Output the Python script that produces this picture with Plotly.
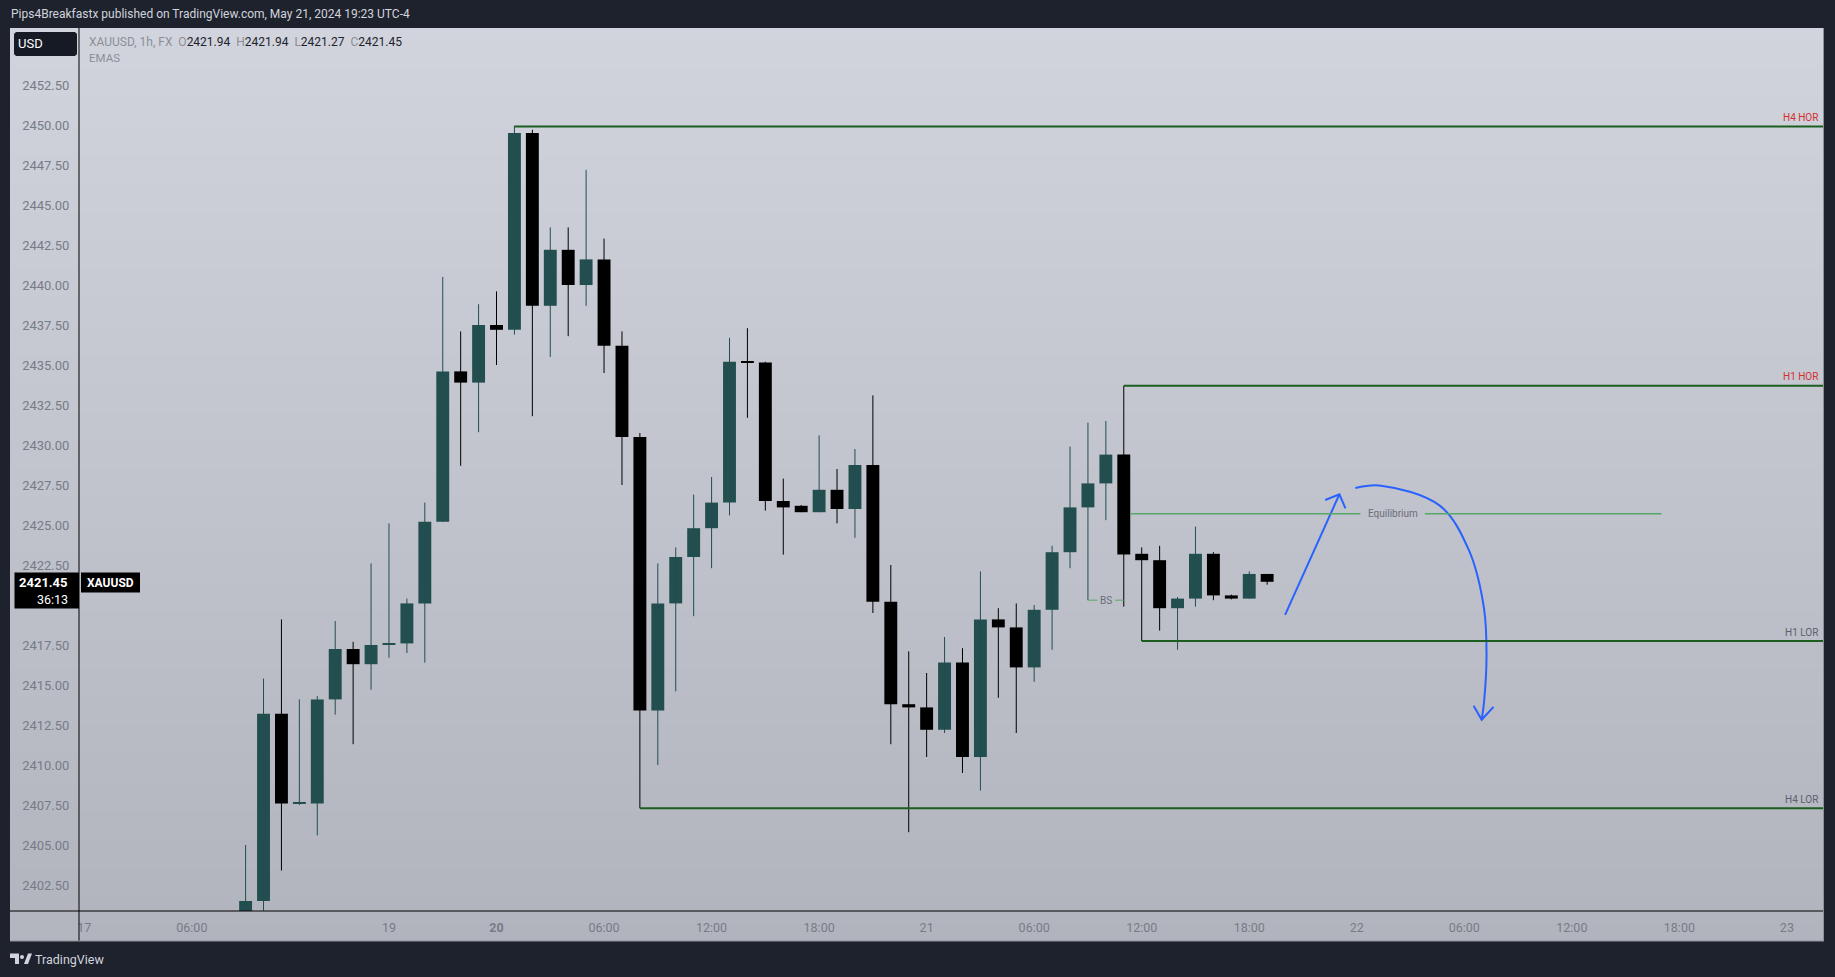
import base64
import struct
import zlib
import plotly.graph_objects as go

# ---------------- data ----------------
# bar index = hours since 17 May 00:00 (chart bar positions)
bar_idx = list(range(9, 67))
opens = [2399.6, 2401.5, 2413.2, 2407.6, 2407.6, 2414.1, 2417.25, 2416.3, 2417.5, 2417.6,
         2420.1, 2425.2, 2434.6, 2433.9, 2437.5, 2437.2, 2449.5, 2438.7, 2442.2, 2440.0,
         2441.6, 2436.2, 2430.5, 2413.4, 2420.1, 2423.0, 2424.8, 2426.4, 2435.2, 2435.15,
         2426.5, 2426.2, 2425.8, 2427.2, 2426.0, 2428.75, 2420.2, 2413.8, 2413.6, 2412.2,
         2416.4, 2410.5, 2419.1, 2418.6, 2416.1, 2419.7, 2423.3, 2426.1, 2427.6, 2429.4,
         2423.2, 2422.8, 2419.8, 2420.4, 2423.2, 2420.6, 2420.4, 2421.94]
highs = [2405.0, 2415.4, 2419.1, 2414.1, 2414.3, 2419.0, 2417.7, 2422.6, 2425.1, 2420.4,
         2426.4, 2440.5, 2437.1, 2438.8, 2439.6, 2449.95, 2449.7, 2443.6, 2443.6, 2447.2,
         2442.9, 2437.1, 2430.75, 2422.6, 2423.6, 2426.9, 2428.0, 2436.7, 2437.3, 2435.2,
         2427.9, 2426.25, 2430.6, 2428.5, 2429.75, 2433.1, 2422.5, 2417.1, 2415.75, 2418.0,
         2417.3, 2422.1, 2419.8, 2420.1, 2420.0, 2423.7, 2429.9, 2431.4, 2431.5, 2433.7,
         2423.6, 2423.7, 2420.5, 2424.9, 2423.3, 2420.65, 2422.1, 2421.94]
lows = [2398.8, 2400.9, 2403.4, 2407.5, 2405.6, 2413.15, 2411.3, 2414.7, 2416.7, 2417.0,
        2416.4, 2425.2, 2428.7, 2430.8, 2435.0, 2436.9, 2431.8, 2435.5, 2436.8, 2438.7,
        2434.5, 2427.5, 2407.3, 2410.0, 2414.6, 2419.3, 2422.3, 2425.6, 2431.7, 2425.9,
        2423.15, 2425.8, 2425.8, 2425.1, 2424.2, 2419.5, 2411.3, 2405.8, 2410.5, 2412.0,
        2409.5, 2408.4, 2414.2, 2412.0, 2415.2, 2417.2, 2422.3, 2420.3, 2425.3, 2419.9,
        2417.75, 2418.4, 2417.2, 2419.9, 2420.3, 2420.35, 2420.4, 2421.27]
closes = [2401.5, 2413.2, 2407.6, 2407.65, 2414.1, 2417.25, 2416.3, 2417.5, 2417.6, 2420.1,
          2425.2, 2434.6, 2433.9, 2437.5, 2437.2, 2449.5, 2438.7, 2442.2, 2440.0, 2441.6,
          2436.2, 2430.5, 2413.4, 2420.1, 2423.0, 2424.8, 2426.4, 2435.2, 2435.15, 2426.5,
          2426.1, 2425.8, 2427.2, 2426.0, 2428.75, 2420.2, 2413.8, 2413.6, 2412.2, 2416.4,
          2410.5, 2419.1, 2418.6, 2416.1, 2419.7, 2423.3, 2426.1, 2427.6, 2429.4, 2423.15,
          2422.8, 2419.8, 2420.4, 2423.2, 2420.6, 2420.4, 2421.94, 2421.45]

x_tick_idx = [0, 6, 17, 23, 29, 35, 41, 47, 53, 59, 65, 71, 77, 83, 89, 95]
x_tick_text = ["17", "06:00", "19", "<b>20</b>", "06:00", "12:00", "18:00", "21", "06:00",
               "12:00", "18:00", "22", "06:00", "12:00", "18:00", "23"]
# 2420.00 is hidden behind the last-price label in the reference
price_ticks = [2402.5, 2405.0, 2407.5, 2410.0, 2412.5, 2415.0, 2417.5, 2422.5,
               2425.0, 2427.5, 2430.0, 2432.5, 2435.0, 2437.5, 2440.0, 2442.5, 2445.0,
               2447.5, 2450.0, 2452.5]

level_names = ["H4 HOR", "H1 HOR", "H1 LOR", "H4 LOR"]
level_prices = [2449.9, 2433.7, 2417.75, 2407.3]
level_start = [24, 58, 59, 31]
level_label_colors = ["#d32f2f", "#d32f2f", "#5d606b", "#5d606b"]

eq_price = 2425.7
eq_segments = [(58.36, 71.2), (74.8, 88.0)]
eq_label_x = 73.0
bs_price = 2420.3
bs_segments = [(56.0, 56.53), (57.52, 58.0)]
bs_label_x = 57.0

arrow_up_x = [67.0, 70.03]
arrow_up_y = [2419.38, 2426.92]
arrow_up_head_x = [69.24, 70.03, 70.37]
arrow_up_head_y = [2426.56, 2426.92, 2426.04]
arc_x = [70.92, 72.36, 75.63, 77.25, 78.10, 78.24, 78.10, 77.97]
arc_y = [2427.31, 2427.46, 2426.21, 2423.44, 2419.78, 2416.85, 2413.93, 2412.83]
arc_head_x = [77.52, 77.97, 78.63]
arc_head_y = [2413.71, 2412.83, 2413.63]

last_price = "2421.45"
countdown = "36:13"

# ---------------- geometry / styles ----------------
W, H = 1835, 977
L, R, T, B = 79, 1824, 28, 911
X_RANGE = [-0.296, 97.07]
Y_RANGE = [2400.875, 2456.0625]
BULL = "#224e50"
BEAR = "#000000"
FONT = "Roboto"
AXIS_TXT = "#787b86"


def P(x, y):
    return (x - L) / (R - L), (B - y) / (B - T)


def gradient_png(top, bottom, n=256):
    raw = b""
    for i in range(n):
        t = i / (n - 1)
        px = bytes(int(round(a + (b - a) * t)) for a, b in zip(top, bottom))
        raw += b"\x00" + px

    def chunk(tag, data):
        return (struct.pack(">I", len(data)) + tag + data +
                struct.pack(">I", zlib.crc32(tag + data) & 0xffffffff))

    png = (b"\x89PNG\r\n\x1a\n" +
           chunk(b"IHDR", struct.pack(">IIBBBBB", 1, n, 8, 2, 0, 0, 0)) +
           chunk(b"IDAT", zlib.compress(raw)) + chunk(b"IEND", b""))
    return "data:image/png;base64," + base64.b64encode(png).decode()


fig = go.Figure()

# wicks
for up, color in [(True, BULL), (False, BEAR)]:
    wx, wy = [], []
    for i, o, h, l, c in zip(bar_idx, opens, highs, lows, closes):
        if (c >= o) == up:
            wx += [i, i, None]
            wy += [l, h, None]
    fig.add_trace(go.Scatter(x=wx, y=wy, mode="lines", line=dict(color=color, width=1),
                             hoverinfo="skip", showlegend=False))

# bodies
for up, color in [(True, BULL), (False, BEAR)]:
    bx, bb, bh = [], [], []
    for i, o, c in zip(bar_idx, opens, closes):
        if (c >= o) == up:
            bx.append(i)
            bb.append(min(o, c))
            bh.append(max(abs(c - o), 0.09))
    fig.add_trace(go.Bar(x=bx, y=bh, base=bb, width=0.72, marker=dict(color=color, line=dict(width=0)),
                         hoverinfo="skip", showlegend=False))

# drawn arrows
BLUE = "#2962ff"
fig.add_trace(go.Scatter(x=arrow_up_x, y=arrow_up_y, mode="lines", line=dict(color=BLUE, width=2),
                         hoverinfo="skip", showlegend=False))
fig.add_trace(go.Scatter(x=arrow_up_head_x, y=arrow_up_head_y, mode="lines", line=dict(color=BLUE, width=2),
                         hoverinfo="skip", showlegend=False))
fig.add_trace(go.Scatter(x=arc_x, y=arc_y, mode="lines", line=dict(color=BLUE, width=2, shape="spline"),
                         hoverinfo="skip", showlegend=False))
fig.add_trace(go.Scatter(x=arc_head_x, y=arc_head_y, mode="lines", line=dict(color=BLUE, width=2),
                         hoverinfo="skip", showlegend=False))

shapes = []
annotations = []

# horizontal levels
for name, price, start, lc in zip(level_names, level_prices, level_start, level_label_colors):
    shapes.append(dict(type="line", xref="x", yref="y", x0=start, x1=X_RANGE[1], y0=price, y1=price,
                       line=dict(color="#1b5e20", width=2)))
    annotations.append(dict(xref="paper", yref="y", x=P(1820, 0)[0], y=price, yshift=9,
                            text=name, showarrow=False, xanchor="right", yanchor="middle",
                            font=dict(family=FONT, size=10, color=lc)))

for x0, x1 in eq_segments:
    shapes.append(dict(type="line", xref="x", yref="y", x0=x0, x1=x1, y0=eq_price, y1=eq_price,
                       line=dict(color="#56a86a", width=1.5)))
annotations.append(dict(xref="x", yref="y", x=eq_label_x, y=eq_price, text="Equilibrium", showarrow=False,
                        font=dict(family=FONT, size=10, color="#6a6d78"), xanchor="center", yanchor="middle"))
for x0, x1 in bs_segments:
    shapes.append(dict(type="line", xref="x", yref="y", x0=x0, x1=x1, y0=bs_price, y1=bs_price,
                       line=dict(color="#56a86a", width=1)))
annotations.append(dict(xref="x", yref="y", x=bs_label_x, y=bs_price, text="BS", showarrow=False,
                        font=dict(family=FONT, size=10, color="#6a6d78"), xanchor="center", yanchor="middle"))


def prect(x0, y0, x1, y1, fill, line_color=None, layer="above", lw=0):
    a = P(x0, y0)
    b = P(x1, y1)
    return dict(type="rect", xref="paper", yref="paper", x0=a[0], y0=a[1], x1=b[0], y1=b[1],
                fillcolor=fill, line=dict(color=line_color or fill, width=lw), layer=layer)


def pline(x0, y0, x1, y1, color, w=1):
    a = P(x0, y0)
    b = P(x1, y1)
    return dict(type="line", xref="paper", yref="paper", x0=a[0], y0=a[1], x1=b[0], y1=b[1],
                line=dict(color=color, width=w), layer="above")


def ppath(points, fill):
    d = ""
    for k, (x, y) in enumerate(points):
        px_, py_ = P(x, y)
        d += ("M" if k == 0 else "L") + f"{px_:.6f},{py_:.6f}"
    d += "Z"
    return dict(type="path", xref="paper", yref="paper", path=d, fillcolor=fill,
                line=dict(width=0), layer="above")


# cover for axis-corner + frame lines
shapes.append(prect(10, 912, 78.5, 940, "#b3b6bf"))
shapes.append(pline(79, 28, 79, 941, "#000000", 1))
shapes.append(pline(10, 911, 1824, 911, "#000000", 1))
shapes.append(pline(1823.5, 28, 1823.5, 941, "#8e919a", 1))
shapes.append(pline(10, 941, 1824, 941, "#8e919a", 1))

# USD box
shapes.append(ppath([(16, 32), (75, 32), (77, 34), (77, 54), (75, 56), (16, 56), (14, 54), (14, 34)],
                    "#161a25"))
annotations.append(dict(xref="paper", yref="paper", x=P(30.5, 0)[0], y=P(0, 44)[1], text="USD",
                        showarrow=False, xanchor="center", yanchor="middle",
                        font=dict(family=FONT, size=13, color="#ffffff")))

# price label boxes
shapes.append(prect(14.5, 572.5, 79, 608.5, "#000000"))
shapes.append(prect(81, 572.5, 140, 592.5, "#000000"))
annotations.append(dict(xref="paper", yref="paper", x=P(70, 0)[0], y=P(0, 582)[1], text=f"<b>{last_price}</b>",
                        showarrow=False, xanchor="right", yanchor="middle",
                        font=dict(family=FONT, size=13, color="#ffffff")))
annotations.append(dict(xref="paper", yref="paper", x=P(70, 0)[0], y=P(0, 599)[1], text=countdown,
                        showarrow=False, xanchor="right", yanchor="middle",
                        font=dict(family=FONT, size=12.5, color="#ffffff")))
annotations.append(dict(xref="paper", yref="paper", x=P(110.5, 0)[0], y=P(0, 582.5)[1], text="<b>XAUUSD</b>",
                        showarrow=False, xanchor="center", yanchor="middle",
                        font=dict(family=FONT, size=12, color="#ffffff")))

# header + legend texts
annotations.append(dict(xref="paper", yref="paper", x=P(9, 0)[0], y=P(0, 14)[1],
                        text="Pips4Breakfastx published on TradingView.com, May 21, 2024 19:23 UTC-4",
                        showarrow=False, xanchor="left", yanchor="middle",
                        font=dict(family=FONT, size=12, color="#d1d4dc")))
g = "#8c8f98"
k = "#1e222d"
legend_txt = (f"<span style='color:{g}'>XAUUSD, 1h, FX&nbsp;&nbsp;O</span><span style='color:{k}'>{opens[-1]:.2f}</span>"
              f"<span style='color:{g}'>&nbsp;&nbsp;H</span><span style='color:{k}'>{highs[-1]:.2f}</span>"
              f"<span style='color:{g}'>&nbsp;&nbsp;L</span><span style='color:{k}'>{lows[-1]:.2f}</span>"
              f"<span style='color:{g}'>&nbsp;&nbsp;C</span><span style='color:{k}'>{closes[-1]:.2f}</span>")
annotations.append(dict(xref="paper", yref="paper", x=P(87, 0)[0], y=P(0, 42)[1], text=legend_txt,
                        showarrow=False, xanchor="left", yanchor="middle",
                        font=dict(family=FONT, size=12, color=g)))
annotations.append(dict(xref="paper", yref="paper", x=P(87, 0)[0], y=P(0, 58)[1], text="EMAS",
                        showarrow=False, xanchor="left", yanchor="middle",
                        font=dict(family=FONT, size=11.5, color=g)))

# footer logo + text
LOGO = "#d1d4dc"
shapes.append(ppath([(10, 953.5), (19, 953.5), (19, 964), (15, 964), (15, 958), (10, 958)], LOGO))
c0 = P(20, 955)
c1 = P(24, 959)
shapes.append(dict(type="circle", xref="paper", yref="paper", x0=c0[0], y0=c0[1], x1=c1[0], y1=c1[1],
                   fillcolor=LOGO, line=dict(width=0), layer="above"))
shapes.append(ppath([(24, 964), (28, 953.5), (32, 953.5), (28, 964)], LOGO))
annotations.append(dict(xref="paper", yref="paper", x=P(33, 0)[0], y=P(0, 959)[1], text="TradingView",
                        showarrow=False, xanchor="left", yanchor="middle",
                        font=dict(family=FONT, size=12.5, color=LOGO)))

img_x, img_y = P(10, 28)
bg_img = dict(source=gradient_png((209, 212, 220), (177, 180, 189)), xref="paper", yref="paper",
              x=img_x, y=img_y, sizex=(1824 - 10) / (R - L), sizey=(941 - 28) / (B - T),
              xanchor="left", yanchor="top", sizing="stretch", layer="below")

fig.update_layout(
    width=W, height=H,
    margin=dict(l=L, r=W - R, t=T, b=H - B, autoexpand=False),
    paper_bgcolor="#1e222d",
    plot_bgcolor="rgba(0,0,0,0)",
    barmode="overlay",
    hovermode=False,
    showlegend=False,
    images=[bg_img],
    shapes=shapes,
    annotations=annotations,
    xaxis=dict(range=X_RANGE, showgrid=False, zeroline=False, showline=False,
               tickmode="array", tickvals=x_tick_idx, ticktext=x_tick_text,
               ticks="outside", ticklen=5, tickcolor="rgba(0,0,0,0)",
               tickfont=dict(family=FONT, size=12.5, color=AXIS_TXT), fixedrange=True),
    yaxis=dict(range=Y_RANGE, showgrid=False, zeroline=False, showline=False, side="left",
               tickmode="array", tickvals=price_ticks, ticktext=[f"{v:.2f}" for v in price_ticks],
               ticks="outside", ticklen=6, tickcolor="rgba(0,0,0,0)",
               tickfont=dict(family=FONT, size=13, color=AXIS_TXT), fixedrange=True),
)

fig.write_html("out.html", config=dict(displayModeBar=False),
               post_script="document.body.style.margin='0';document.body.style.overflow='hidden';"
                           "document.documentElement.style.background='#1e222d';")
